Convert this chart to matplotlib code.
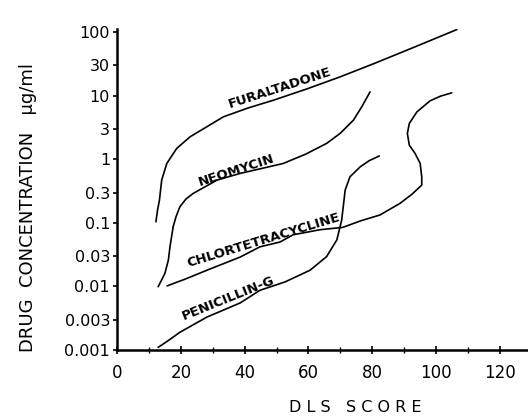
import matplotlib
matplotlib.use("Agg")
import matplotlib.pyplot as plt

plt.rcParams['font.family'] = ['DejaVu Sans']

# curves (DLS score, drug concentration ug/ml)
fur_x = [12.2, 12.7, 13.3, 14.0, 15.6, 18.7, 22.9, 28.1, 33.3, 41.0, 49.0, 59.5, 69.9, 80.5, 90.8, 98.5, 106.5]
fur_y = [0.104, 0.158, 0.228, 0.47, 0.86, 1.48, 2.26, 3.24, 4.65, 6.4, 8.5, 12.8, 19.8, 32.0, 52.0, 75.0, 110.0]

neo_x = [12.9, 15.0, 16.1, 16.6, 17.6, 18.5, 19.7, 21.6, 23.9, 31.3, 38.6, 52.1, 59.2, 65.7, 69.9, 74.1, 76.7, 79.3]
neo_y = [0.0099, 0.016, 0.026, 0.042, 0.087, 0.125, 0.179, 0.237, 0.291, 0.47, 0.60, 0.86, 1.21, 1.78, 2.55,
         4.13, 6.7, 11.5]

chl_x = [15.7, 21.3, 28.2, 38.6, 44.8, 51.1, 55.2, 63.6, 70.8, 76.2, 82.4, 88.7, 92.5, 95.5, 95.5, 95.0,
         93.4, 91.6, 91.0, 91.6, 94.0, 98.1, 101.5, 104.9]
chl_y = [0.0102, 0.013, 0.018, 0.029, 0.042, 0.050, 0.065, 0.078, 0.085, 0.107, 0.133, 0.203, 0.284, 0.393,
         0.531, 0.863, 1.24, 1.67, 2.55, 3.66, 5.58, 8.32, 9.9, 11.1]

pen_x = [12.9, 16.0, 19.7, 28.2, 38.6, 44.8, 52.7, 60.5, 65.7, 68.9, 70.4, 70.9, 71.5, 73.0, 76.2, 79.0, 82.2]
pen_y = [0.0011, 0.0014, 0.0019, 0.0033, 0.0055, 0.0087, 0.0118, 0.018, 0.0295, 0.054, 0.11, 0.179, 0.328,
         0.53, 0.76, 0.95, 1.13]

labels = ['FURALTADONE', 'NEOMYCIN', 'CHLORTETRACYCLINE', 'PENICILLIN-G']
label_x = [51.1, 37.3, 45.8, 34.8]
label_y = [13.2, 0.68, 0.054, 0.0066]
label_rot = [18, 18, 17, 22]

yticks = [0.001, 0.003, 0.01, 0.03, 0.1, 0.3, 1, 3, 10, 30, 100]
ytick_labels = ['0.001', '0.003', '0.01', '0.03', '0.1', '0.3', '1', '3', '10', '30', '100']
xticks = [0, 20, 40, 60, 80, 100, 120]

fig = plt.figure(figsize=(5.28, 4.16), dpi=100)
ax = fig.add_axes([117 / 528, 66 / 416, 411 / 528, 321 / 416])

for xs, ys in [(fur_x, fur_y), (neo_x, neo_y), (chl_x, chl_y), (pen_x, pen_y)]:
    ax.plot(xs, ys, color='black', linewidth=1.2, solid_capstyle='round', solid_joinstyle='round')

for name, lx, ly, rot in zip(labels, label_x, label_y, label_rot):
    ax.text(lx, ly, name, rotation=rot, rotation_mode='anchor', ha='center', va='center',
            fontsize=9.5, fontweight='bold')

ax.set_yscale('log')
ax.set_ylim(0.001, 10 ** 2.05)
ax.set_xlim(0, 128.8)

ax.set_yticks(yticks)
ax.set_yticklabels(ytick_labels)
ax.yaxis.set_minor_locator(matplotlib.ticker.NullLocator())
ax.set_xticks(xticks)
ax.set_xticks(range(10, 130, 20), minor=True)

ax.tick_params(axis='y', direction='out', length=3, width=1.2, pad=2, labelsize=11.5)
ax.tick_params(axis='x', which='major', direction='inout', length=6, width=1.2, pad=7, labelsize=12)
ax.tick_params(axis='x', which='minor', direction='inout', length=5, width=1.0)

for side in ['top', 'right']:
    ax.spines[side].set_visible(False)
for side in ['left', 'bottom']:
    ax.spines[side].set_linewidth(1.8)

fig.text(28 / 528, (416 - 352) / 416, 'DRUG  CONCENTRATION   \u03bcg/ml', rotation=90,
         ha='center', va='bottom', fontsize=13)
fig.text(355 / 528, (416 - 408) / 416, 'D L S   S C O R E', ha='center', va='center', fontsize=11.5)

fig.savefig('out.png', dpi=100)
